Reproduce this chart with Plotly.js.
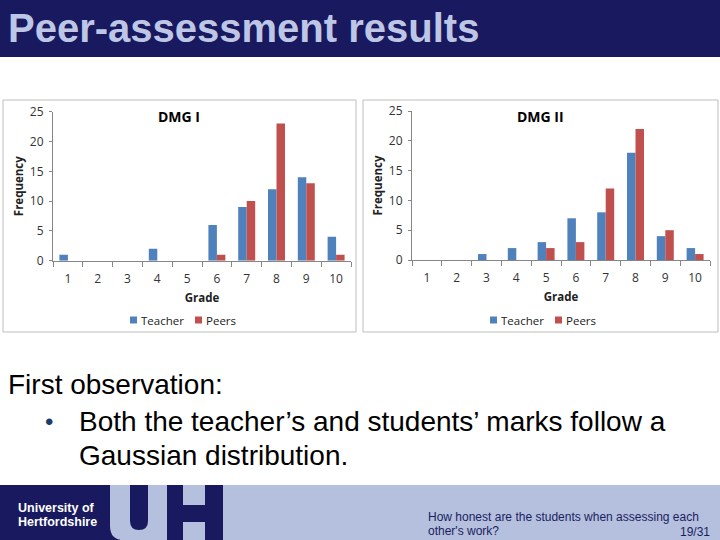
<!DOCTYPE html>
<html><head><meta charset="utf-8">
<script src="https://cdn.plot.ly/plotly-3.0.1.min.js"></script>
<style>html,body{margin:0;padding:0;background:#fff;overflow:hidden;} #chart{width:720px;height:540px;}</style>
</head><body><div id="chart"></div>
<script>
// ---- data ----
const grades = ['1','2','3','4','5','6','7','8','9','10'];
const dmg1Teacher = [1,0,0,2,0,6,9,12,14,4];
const dmg1Peers   = [0,0,0,0,0,1,10,23,13,1];
const dmg2Teacher = [0,0,1,2,3,7,8,18,4,2];
const dmg2Peers   = [0,0,0,0,2,3,12,22,5,1];
const seriesNames = ['Teacher','Peers'];
const chartTitles = ['DMG I','DMG II'];
const xTitle = 'Grade';
const yTitle = 'Frequency';
const yTicks = [0,5,10,15,20,25];
const slideTitle = 'Peer-assessment results';
const bodyLines = ['First observation:', 'Both the teacher’s and students’ marks follow a', 'Gaussian distribution.'];
const footerLines = ['How honest are the students when assessing each', 'other\'s work?'];
const pageNo = '19/31';
const logoLines = ['University of', 'Hertfordshire'];

// ---- styling ----
const W = 720, H = 540;
const px = x => x / W;
const py = y => 1 - y / H;
const P = (x, y) => px(x) + ',' + py(y);
const colors = ['#4F81BD', '#C0504D'];
const navy = '#18195E', light = '#B4C0DE', titleCol = '#BEC6E6';
const chartFont = 'Open Sans, Lato, sans-serif';
const slideFont = 'Liberation Sans, Arial, sans-serif';
const axisCol = '#868686', tickCol = '#333333';

const traces = [
  {x: grades, y: dmg1Teacher, name: seriesNames[0], xaxis: 'x', yaxis: 'y'},
  {x: grades, y: dmg1Peers, name: seriesNames[1], xaxis: 'x', yaxis: 'y'},
  {x: grades, y: dmg2Teacher, name: seriesNames[0], xaxis: 'x2', yaxis: 'y2'},
  {x: grades, y: dmg2Peers, name: seriesNames[1], xaxis: 'x2', yaxis: 'y2'}
].map((t, i) => Object.assign(t, {
  type: 'bar', marker: {color: colors[i % 2]}, showlegend: false, hoverinfo: 'x+y+name'
}));

function xAxis(d0, d1, anchor) {
  return {
    domain: [px(d0), px(d1)], anchor: anchor, type: 'category',
    tickson: 'boundaries', ticks: 'outside', ticklen: 5, tickcolor: axisCol,
    showline: true, linecolor: axisCol, linewidth: 1, showgrid: false, zeroline: false,
    tickfont: {family: chartFont, size: 12, color: tickCol}, ticklabelstandoff: 7,
    title: {text: '<b>' + xTitle + '</b>', font: {family: chartFont, size: 11.5, color: '#222'}, standoff: 7},
    fixedrange: true
  };
}
function yAxis(top, bottom, anchor) {
  return {
    domain: [py(bottom), py(top)], anchor: anchor, range: [0, 25],
    tickmode: 'array', tickvals: yTicks, ticks: 'outside', ticklen: 3, tickcolor: axisCol,
    showline: true, linecolor: axisCol, linewidth: 1, showgrid: false, zeroline: false,
    tickfont: {family: chartFont, size: 12, color: tickCol}, ticklabelstandoff: 3,
    title: {text: '<b>' + yTitle + '</b>', font: {family: chartFont, size: 11.5, color: '#222'}, standoff: 3},
    fixedrange: true
  };
}

const rect = (x0, y0, x1, y1, fill, extra) => Object.assign({
  type: 'rect', xref: 'paper', yref: 'paper', x0: px(x0), x1: px(x1), y0: py(y1), y1: py(y0),
  fillcolor: fill, line: {width: 0}, layer: 'below'
}, extra || {});
const path = (d, fill) => ({type: 'path', xref: 'paper', yref: 'paper', path: d, fillcolor: fill, line: {width: 0}, layer: 'below'});

const shapes = [
  rect(0, 0, 720, 57, navy),
  rect(0, 485, 720, 540, light),
  rect(0, 485, 120, 540, navy),
  path('M' + P(110,485) + ' L' + P(110,526) + ' Q' + P(110,540) + ' ' + P(124,540) + ' L' + P(167,540) + ' L' + P(167,485) + ' Z', light),
  path('M' + P(130,485) + ' L' + P(130,521) + ' Q' + P(130,530) + ' ' + P(139,530) + ' Q' + P(148,530) + ' ' + P(148,521) + ' L' + P(148,485) + ' Z', navy),
  rect(167, 485, 183, 540, navy),
  rect(205, 485, 223, 540, navy),
  rect(183, 505, 205, 522, navy),
  rect(3, 100, 356, 332, 'rgba(0,0,0,0)', {line: {color: '#BDBDBD', width: 1}}),
  rect(363, 100, 718, 332, 'rgba(0,0,0,0)', {line: {color: '#BDBDBD', width: 1}})
];

const ann = (text, x, y, opts) => Object.assign({
  text: text, xref: 'paper', yref: 'paper', x: px(x), y: py(y), showarrow: false,
  xanchor: 'left', yanchor: 'middle', font: {family: slideFont, size: 12, color: '#000'}
}, opts || {});

const annotations = [
  ann('<b>' + slideTitle + '</b>', 6, 28, {font: {family: slideFont, size: 40, color: titleCol}}),
  ann(bodyLines[0], 6, 385, {font: {family: slideFont, size: 28, color: '#000'}}),
  ann('•', 43, 421, {font: {family: slideFont, size: 24, color: '#1F3A6E'}}),
  ann(bodyLines[1], 77, 421, {font: {family: slideFont, size: 28, color: '#000'}}),
  ann(bodyLines[2], 77, 455, {font: {family: slideFont, size: 28, color: '#000'}}),
  ann('<b>' + logoLines[0] + '</b>', 16, 508, {font: {family: slideFont, size: 12.5, color: '#FFFFFF'}}),
  ann('<b>' + logoLines[1] + '</b>', 16, 522, {font: {family: slideFont, size: 12.5, color: '#FFFFFF'}}),
  ann(footerLines[0], 426, 517, {font: {family: slideFont, size: 12, color: '#1B1E5E'}}),
  ann(footerLines[1], 426, 531, {font: {family: slideFont, size: 12, color: '#1B1E5E'}}),
  ann(pageNo, 712, 532, {xanchor: 'right', font: {family: slideFont, size: 12, color: '#1B1E5E'}})
];

// chart titles and legends
const chartOffsets = [0, 360];
const titleCenters = [179, 540];
chartOffsets.forEach((off, c) => {
  annotations.push(ann('<b>' + chartTitles[c] + '</b>', titleCenters[c], 116.5,
    {xanchor: 'center', font: {family: chartFont, size: 14, color: '#000'}}));
  const legendSq = [130, 195];
  seriesNames.forEach((n, s) => {
    const sx = legendSq[s] + off;
    shapes.push(rect(sx, 316.5, sx + 7, 323.5, colors[s], {layer: 'above'}));
    annotations.push(ann(n, sx + 9, 320, {font: {family: chartFont, size: 11.5, color: '#222'}}));
  });
});

const layout = {
  width: W, height: H, margin: {l: 0, r: 0, t: 0, b: 0},
  paper_bgcolor: '#FFFFFF', plot_bgcolor: 'rgba(0,0,0,0)',
  barmode: 'group', bargap: 0.43, bargroupgap: 0,
  showlegend: false,
  xaxis: xAxis(53, 351, 'y'), yaxis: yAxis(111.7, 260.7, 'x'),
  xaxis2: xAxis(412, 710, 'y2'), yaxis2: yAxis(111, 260, 'x2'),
  shapes: shapes, annotations: annotations
};

Plotly.newPlot('chart', traces, layout, {displayModeBar: false, staticPlot: true});
</script></body></html>
